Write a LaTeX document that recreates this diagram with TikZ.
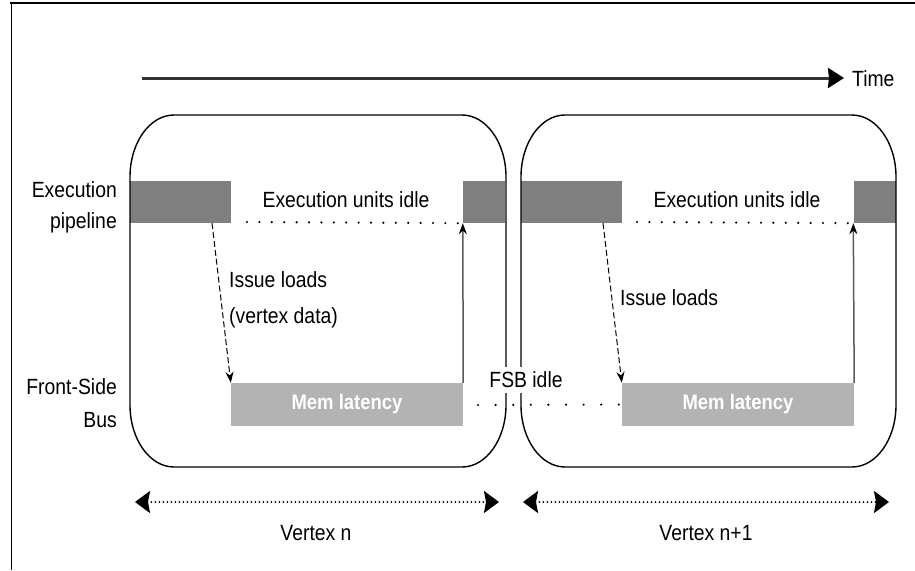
\documentclass[tikz,border=0pt]{standalone}
\usepackage{fontspec}
\setmainfont{Liberation Sans}[FakeStretch=0.88]
\usetikzlibrary{arrows.meta,calc}

\definecolor{busy}{HTML}{808080}
\definecolor{memgray}{HTML}{B3B3B3}
\definecolor{retgray}{HTML}{5A5A5A}

\tikzset{
  txt/.style={font=\fontsize{22}{26}\selectfont, inner sep=0pt},
  execbar/.style={fill=busy, draw=none, inner sep=0pt, minimum height=42pt},
  membar/.style={fill=memgray, draw=none, inner sep=0pt, minimum height=43pt,
    text=white, font=\fontsize{21}{24}\selectfont\bfseries},
  vframe/.style={draw=black, line width=1.4pt},
  idle/.style={line width=2.4pt, line cap=round, dash pattern=on 0pt off 12.4pt},
  fsbidle/.style={line width=2.4pt, line cap=round, dash pattern=on 0pt off 17.6pt},
  span/.style={line width=2pt, line cap=round, dash pattern=on 0pt off 4pt,
    {Stealth[length=15pt,width=22pt,inset=2pt]}-{Stealth[length=15pt,width=22pt,inset=2pt]}},
  issue/.style={line width=1pt, dash pattern=on 6pt off 3pt, -{Stealth[length=11pt,width=8pt]}},
  ready/.style={retgray, line width=1.5pt, -{Stealth[length=11pt,width=8pt,color=black]}},
}

% frame with elliptical corners between two corner coordinates (y grows downward)
\newcommand{\vertexframe}[2]{%
  \draw[vframe] ($(#1)+(0,62)$) arc[start angle=180,end angle=270,x radius=44,y radius=62]
    -- ($(#2 |- #1)+(-44,0)$) arc[start angle=270,end angle=360,x radius=44,y radius=62]
    -- ($(#2)+(0,-62)$) arc[start angle=0,end angle=90,x radius=44,y radius=62]
    -- ($(#1 |- #2)+(44,0)$) arc[start angle=90,end angle=180,x radius=44,y radius=62]
    -- cycle;}

\begin{document}
\begin{tikzpicture}[x=1pt,y=-1pt]
\useasboundingbox (0,0) rectangle (915,570);

% outer frame (top and left edges only)
\draw[line width=1.6pt] (10,3) -- (915,3);
\draw[line width=1pt] (11,3) -- (11,570);

% time axis
\coordinate (t0) at (142,78);
\coordinate (t1) at (844,78);
\draw[line width=3pt, draw=black!80, -{Stealth[length=16pt,width=20pt,inset=1pt,color=black]}] (t0) -- (t1);
\node[txt, anchor=west] (time) at (852,79) {Time};

% row labels
\node[txt, anchor=east] (lexec1) at (117,190) {Execution};
\node[txt, anchor=east] (lexec2) at (117,223) {pipeline};
\node[txt, anchor=east] (lfsb1) at (117,387) {Front-Side};
\node[txt, anchor=east] (lfsb2) at (117,420) {Bus};

% execution pipeline bars
\node[execbar, minimum width=101pt] (e1) at (180.5,202) {};
\node[execbar, minimum width=42pt] (e2) at (484,202) {};
\node[execbar, minimum width=101pt] (e3) at (571.5,202) {};
\node[execbar, minimum width=42pt] (e4) at (874.5,202) {};

% memory latency bars
\node[membar, minimum width=232pt] (m1) at (347,404.5) {Mem latency};
\node[membar, minimum width=232pt] (m2) at (738,404.5) {Mem latency};

% vertex frames
\coordinate (v1a) at (130,115);
\coordinate (v1b) at (506,467);
\coordinate (v2a) at (521,115);
\coordinate (v2b) at (896,467);
\vertexframe{v1a}{v1b}
\vertexframe{v2a}{v2b}

% idle periods
\coordinate (i1s) at (247,222);
\coordinate (i2s) at (637,222);
\draw[idle] (i1s) -- (e2.south west);
\draw[idle] (i2s) -- (e4.south west);
\node[txt] (idle1) at (346,200) {Execution units idle};
\node[txt] (idle2) at (737,200) {Execution units idle};

\coordinate (f0) at (478,405);
\draw[fsbidle] (f0) -- (m2.west);
\node[txt, fill=white, inner xsep=1pt, inner ysep=5pt] (fsb) at (526,380) {FSB idle};

% load issue and data return
\coordinate (l1) at (212,223);
\coordinate (l2) at (603,223);
\draw[issue] (l1) -- (m1.north west);
\draw[issue] (l2) -- (m2.north west);
\draw[ready] (m1.north east) -- (e2.south west);
\draw[ready] (m2.north east) -- (e4.south west);

\node[txt, anchor=west, align=left, font=\fontsize{22}{36}\selectfont] (iss1) at (229,300) {Issue loads\\(vertex data)};
\node[txt, anchor=west] (iss2) at (620,298) {Issue loads};

% vertex spans
\coordinate (s1a) at (135,502);
\coordinate (s1b) at (499,502);
\coordinate (s2a) at (523,502);
\coordinate (s2b) at (889,502);
\draw[span] (s1a) -- (s1b);
\draw[span] (s2a) -- (s2b);
\node[txt] (vn) at (316,533) {Vertex n};
\node[txt] (vn1) at (706,533) {Vertex n+1};
\end{tikzpicture}
\end{document}
